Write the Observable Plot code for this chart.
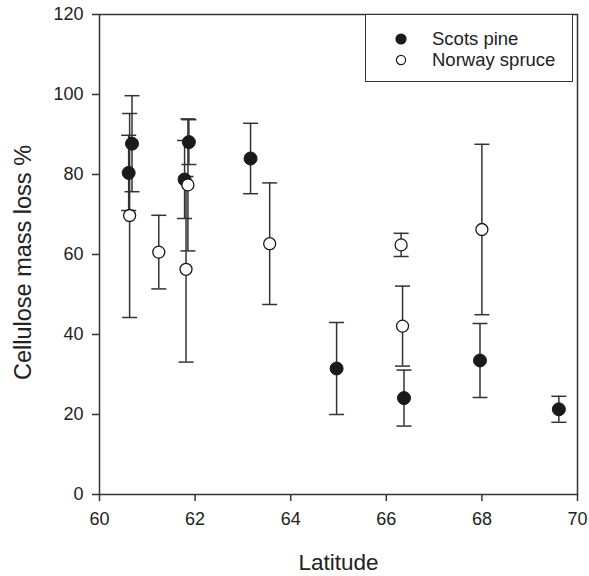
<!DOCTYPE html>
<html>
<head>
<meta charset="utf-8">
<script src="https://cdn.jsdelivr.net/npm/d3@7"></script>
<script src="https://cdn.jsdelivr.net/npm/@observablehq/plot@0.6"></script>
<style>
  html, body { margin: 0; padding: 0; background: #fff; }
  #wrap { position: relative; width: 589px; height: 576px; font-family: "Liberation Sans", Arial, sans-serif; }
  #legend { position: absolute; left: 365px; top: 14px; width: 208px; height: 68px; border: 1.5px solid #333; background: #fff; box-sizing: border-box; font-size: 18.5px; color: #222; }
  .item { position: absolute; left: 29px; display: flex; align-items: center; line-height: 20px; }
  .item svg { margin-right: 25px; }
</style>
</head>
<body>
<div id="wrap"></div>
<script>
// Scots pine (filled)
const pineLat  = [60.61, 60.68, 61.78, 61.87, 63.16, 64.96, 66.37, 67.96, 69.61];
const pineLoss = [80.4, 87.7, 78.75, 88.1, 84.0, 31.5, 24.1, 33.5, 21.3];
const pineErr  = [9.4, 12.0, 9.75, 5.6, 8.8, 11.5, 7.0, 9.25, 3.25];
// Norway spruce (open)
const spruceLat  = [60.63, 61.24, 61.81, 61.85, 63.56, 66.31, 66.34, 68.0];
const spruceLoss = [69.75, 60.6, 56.3, 77.4, 62.7, 62.4, 42.1, 66.25];
const spruceErr  = [25.5, 9.2, 23.2, 16.5, 15.2, 2.9, 10.0, 21.3];

const xTicks = [60, 62, 64, 66, 68, 70];
const yTicks = [0, 20, 40, 60, 80, 100, 120];
const seriesNames = ["Scots pine", "Norway spruce"];

const pine = pineLat.map((x, i) => ({x, y: pineLoss[i], e: pineErr[i]}));
const spruce = spruceLat.map((x, i) => ({x, y: spruceLoss[i], e: spruceErr[i]}));
const all = [...pine, ...spruce];

const cap = { draw(ctx) { ctx.moveTo(-7.5, 0); ctx.lineTo(7.5, 0); } };
const ink = "#333";
const font = "'Liberation Sans', Arial, sans-serif";

const chart = Plot.plot({
  width: 589,
  height: 576,
  marginLeft: 99,
  marginRight: 12,
  marginTop: 14,
  marginBottom: 82,
  style: { fontFamily: font, background: "#fff" },
  x: { domain: [60, 70] },
  y: { domain: [0, 120] },
  marks: [
    Plot.axisX({ ticks: xTicks, tickSize: 7, tickPadding: 11, fontSize: 18, stroke: ink, strokeWidth: 1.5, fill: "#222", label: null }),
    Plot.axisY({ ticks: yTicks, tickSize: 7, tickPadding: 9, fontSize: 18, stroke: ink, strokeWidth: 1.5, fill: "#222", label: null }),
    Plot.ruleX(all, { x: "x", y1: d => d.y - d.e, y2: d => d.y + d.e, stroke: ink, strokeWidth: 1.5 }),
    Plot.dot(all, { x: "x", y: d => d.y + d.e, symbol: cap, stroke: ink, strokeWidth: 1.5, r: 5 }),
    Plot.dot(all, { x: "x", y: d => d.y - d.e, symbol: cap, stroke: ink, strokeWidth: 1.5, r: 5 }),
    Plot.dot(pine, { x: "x", y: "y", r: 6.5, fill: "#1a1a1a", stroke: "#1a1a1a", strokeWidth: 1 }),
    Plot.dot(spruce, { x: "x", y: "y", r: 6, fill: "#fff", stroke: "#1a1a1a", strokeWidth: 1.3 }),
    Plot.frame({ stroke: ink, strokeWidth: 1.5 }),
    Plot.text(["Latitude"], { frameAnchor: "bottom", dy: 68, fontSize: 22.5, fill: "#222", textAnchor: "middle", lineAnchor: "middle" }),
    Plot.text(["Cellulose mass loss %"], { frameAnchor: "left", dx: -76, dy: 8, rotate: -90, fontSize: 23.5, fill: "#222", textAnchor: "middle", lineAnchor: "middle" })
  ]
});

const wrap = document.getElementById("wrap");
wrap.appendChild(chart);

const legend = document.createElement("div");
legend.id = "legend";
const sym = [
  '<svg width="12" height="12"><circle cx="6" cy="6" r="5.6" fill="#1a1a1a"/></svg>',
  '<svg width="12" height="12"><circle cx="6" cy="6" r="4.6" fill="#fff" stroke="#1a1a1a" stroke-width="1.2"/></svg>'
];
seriesNames.forEach((name, i) => {
  const it = document.createElement("div");
  it.className = "item";
  it.style.top = (i === 0 ? 14 : 35) + "px";
  it.innerHTML = sym[i] + "<span>" + name + "</span>";
  legend.appendChild(it);
});
wrap.appendChild(legend);
</script>
</body>
</html>
